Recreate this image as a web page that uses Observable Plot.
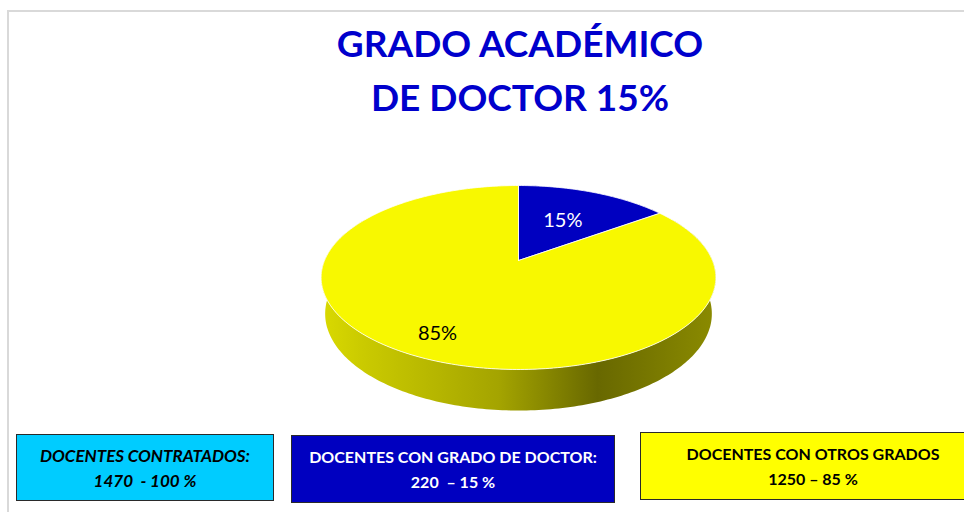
<!DOCTYPE html>
<html>
<head>
<meta charset="utf-8">
<script src="https://cdn.jsdelivr.net/npm/d3@7"></script>
<script src="https://cdn.jsdelivr.net/npm/@observablehq/plot@0.6"></script>
<style>
  html, body { margin: 0; padding: 0; background: #fff; overflow: hidden; }
  #wrap { position: relative; width: 964px; height: 512px; overflow: hidden; font-family: Lato, "Open Sans", sans-serif; }
  #chart { position: absolute; left: 0; top: 0; }
  #frame { position: absolute; left: 7px; top: 10px; right: -10px; bottom: -10px;
           border-top: 2px solid #d9d9d9; border-left: 2px solid #d9d9d9; }
  #title { position: absolute; left: 270px; width: 500px; top: 16px; text-align: center;
           color: #0000cc; font-weight: 700; font-size: 37px; line-height: 54px; }
  .box { position: absolute; box-sizing: border-box; border: 1px solid #2a2a2a;
         display: flex; flex-direction: column; justify-content: center; align-items: center;
         font-weight: 700; font-size: 16px; line-height: 25px; white-space: pre; }
</style>
</head>
<body>
<div id="wrap">
  <div id="chart"></div>
  <div id="frame"></div>
  <div id="title"></div>
</div>
<script>
// ---------- data ----------
const titleLines = ["GRADO ACADÉMICO", "DE DOCTOR 15%"];
const categories = ["DOCENTES CON GRADO DE DOCTOR", "DOCENTES CON OTROS GRADOS"];
const counts = [220, 1250];
const pctLabels = ["15%", "85%"];
const boxLines1 = ["DOCENTES CONTRATADOS:", "DOCENTES CON GRADO DE DOCTOR:", "DOCENTES CON OTROS GRADOS"];
const boxLines2 = ["1470  - 100 %", "220  \u2013 15 %", "1250 \u2013 85 %"];

// ---------- style ----------
const sliceColors = ["#0000c0", "#f8f800"];
const labelColors = ["#ffffff", "#000000"];
const labelRadius = [0.55, 0.8];
const boxStyle = [
  {left: 16, top: 434, width: 258, height: 67, bg: "#00ccff", color: "#000", italic: true, size: 17},
  {left: 291, top: 435, width: 324, height: 68, bg: "#0000c0", color: "#fff", italic: false, size: 16},
  {left: 640, top: 432, width: 346, height: 68, bg: "#ffff00", color: "#000", italic: false, size: 16}
];
// 3D projection (camera) settings
const CX = 518, CY = 260, F = 933, DIST = 4.81, SA = 0.458, CA = 0.889, DEPTH = 0.2115;

function proj(X, Y, Z) {
  const d = DIST + Y * CA - Z * SA;
  return {x: CX + F * X / d, y: CY - F * (Y * SA + Z * CA) / d};
}
function rim(theta, z, r = 1) {
  const t = theta * Math.PI / 180;
  return proj(r * Math.sin(t), r * Math.cos(t), z);
}
function arc(a0, a1, z) {
  const n = Math.max(2, Math.ceil(Math.abs(a1 - a0)));
  return d3.range(n + 1).map(k => rim(a0 + (a1 - a0) * k / n, z));
}

const total = d3.sum(counts);
let acc = 0;
const slices = counts.map((c, i) => {
  const a0 = acc / total * 360; acc += c; const a1 = acc / total * 360;
  return {i, a0, a1};
});

// top faces
const topMarks = slices.map(s => {
  const c = proj(0, 0, 0);
  const pts = [c, ...arc(s.a0, s.a1, 0), c];
  return Plot.line(pts, {x: "x", y: "y", fill: sliceColors[s.i], stroke: "#ffffff",
    strokeWidth: 0.9, strokeOpacity: 0.9, strokeLinejoin: "round"});
});

// visible side walls (front half)
const sideMarks = [];
slices.forEach(s => {
  const b0 = Math.max(s.a0, 60), b1 = Math.min(s.a1, 300);
  if (b1 > b0) {
    const pts = [...arc(b0, b1, 0), ...arc(b1, b0, -DEPTH)];
    sideMarks.push(Plot.line(pts, {x: "x", y: "y", fill: `url(#side-${s.i})`}));
  }
});

// labels
const labels = slices.map(s => {
  const p = rim((s.a0 + s.a1) / 2, 0, labelRadius[s.i]);
  return {x: p.x, y: p.y, text: pctLabels[s.i], color: labelColors[s.i]};
});

const svg = Plot.plot({
  width: 964, height: 512, margin: 0,
  x: {domain: [0, 964], range: [0, 964], axis: null},
  y: {domain: [0, 512], range: [0, 512], axis: null},
  color: {type: "identity"},
  style: {background: "transparent"},
  marks: [
    ...sideMarks,
    ...topMarks,
    Plot.text(labels, {x: "x", y: "y", text: "text", fill: "color", fontSize: 20,
      fontFamily: "Lato, 'Open Sans', sans-serif"})
  ]
});

// gradients for side walls
const defs = d3.select(svg).insert("defs", ":first-child");
const shade = [[0, 0.88], [0.1, 0.82], [0.45, 0.66], [0.7, 0.42], [1, 0.56]];
slices.forEach(s => {
  const g = defs.append("linearGradient").attr("id", `side-${s.i}`)
    .attr("x1", 0).attr("x2", 1).attr("y1", 0).attr("y2", 0);
  const base = d3.rgb(sliceColors[s.i]);
  shade.forEach(([o, k]) => {
    g.append("stop").attr("offset", o)
      .attr("stop-color", d3.rgb(base.r * k, base.g * k, base.b * k).formatHex());
  });
});
document.getElementById("chart").appendChild(svg);

// title
const title = document.getElementById("title");
titleLines.forEach(t => { const d = document.createElement("div"); d.textContent = t; title.appendChild(d); });

// boxes
const wrap = document.getElementById("wrap");
boxLines1.forEach((l1, i) => {
  const st = boxStyle[i];
  const b = document.createElement("div");
  b.className = "box";
  Object.assign(b.style, {left: st.left + "px", top: st.top + "px", width: st.width + "px",
    height: st.height + "px", background: st.bg, color: st.color, fontSize: st.size + "px",
    fontStyle: st.italic ? "italic" : "normal"});
  [l1, boxLines2[i]].forEach(t => { const d = document.createElement("div"); d.textContent = t; b.appendChild(d); });
  wrap.appendChild(b);
});
</script>
</body>
</html>
